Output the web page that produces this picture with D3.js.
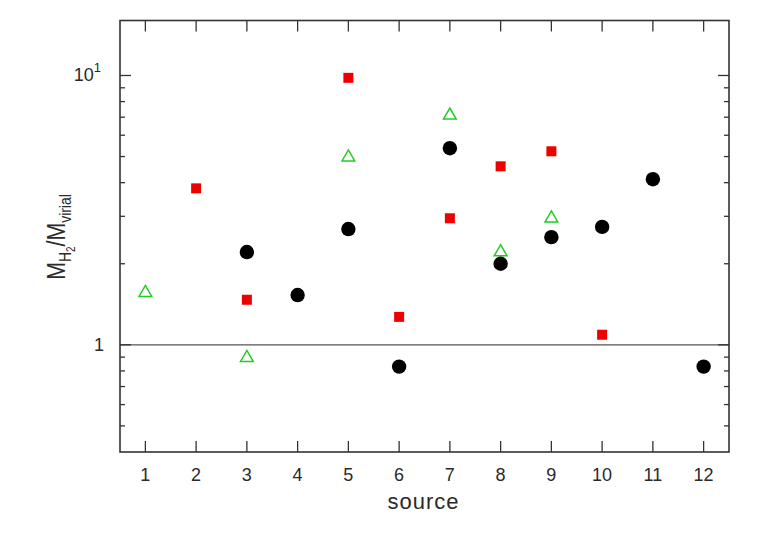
<!DOCTYPE html>
<html>
<head>
<meta charset="utf-8">
<script src="https://cdn.jsdelivr.net/npm/d3@7"></script>
<style>
  body { margin: 0; background: #fff; }
  text { font-family: "Liberation Sans", Arial, sans-serif; fill: #2a2a2a; }
</style>
</head>
<body>
<svg width="780" height="540"></svg>
<script>
// sources on the x axis
const sources = [1, 2, 3, 4, 5, 6, 7, 8, 9, 10, 11, 12];

// black filled circles
const circleSrc = [3, 4, 5, 6, 7, 8, 9, 10, 11, 12];
const circleVal = [2.21, 1.53, 2.69, 0.83, 5.37, 2.0, 2.51, 2.74, 4.12, 0.83];

// red filled squares
const squareSrc = [2, 3, 5, 6, 7, 8, 9, 10];
const squareVal = [3.81, 1.47, 9.8, 1.27, 2.95, 4.6, 5.23, 1.09];

// green open triangles
const triSrc = [1, 3, 5, 7, 8, 9];
const triVal = [1.56, 0.895, 4.97, 7.11, 2.21, 2.95];

const yMajor = [1, 10];
const yMinor = [0.5, 0.6, 0.7, 0.8, 0.9, 2, 3, 4, 5, 6, 7, 8, 9];

const svg = d3.select("svg"),
  margin = { top: 20.5, right: 51, bottom: 88, left: 120 },
  width = 780 - margin.left - margin.right,
  height = 540 - margin.top - margin.bottom,
  g = svg.append("g").attr("transform", "translate(" + margin.left + "," + margin.top + ")");

const x = d3.scaleLinear().domain([0.5, 12.5]).range([0, width]);
const y = d3.scaleLog().domain([0.4, 16]).range([height, 0]);

const frameColor = "#333";

// reference line at 1
g.append("line")
  .attr("x1", 0).attr("x2", width)
  .attr("y1", y(1)).attr("y2", y(1))
  .attr("stroke", "#555").attr("stroke-width", 1.2);

// x ticks, bottom and top, pointing inward
const xt = g.append("g").attr("stroke", frameColor).attr("stroke-width", 1.3);
sources.forEach(s => {
  xt.append("line").attr("x1", x(s)).attr("x2", x(s)).attr("y1", height).attr("y2", height - 11);
  xt.append("line").attr("x1", x(s)).attr("x2", x(s)).attr("y1", 0).attr("y2", 11);
});

// y ticks, left and right
yMajor.forEach(v => {
  xt.append("line").attr("x1", 0).attr("x2", 11).attr("y1", y(v)).attr("y2", y(v));
  xt.append("line").attr("x1", width).attr("x2", width - 11).attr("y1", y(v)).attr("y2", y(v));
});
yMinor.forEach(v => {
  xt.append("line").attr("x1", 0).attr("x2", 5).attr("y1", y(v)).attr("y2", y(v));
  xt.append("line").attr("x1", width).attr("x2", width - 5).attr("y1", y(v)).attr("y2", y(v));
});

// frame
g.append("rect")
  .attr("width", width).attr("height", height)
  .attr("fill", "none").attr("stroke", frameColor).attr("stroke-width", 1.6);

// x tick labels
g.append("g").selectAll("text")
  .data(sources).join("text")
  .attr("x", d => x(d)).attr("y", height + 29)
  .attr("text-anchor", "middle")
  .attr("font-size", 18)
  .text(d => d);

// y tick labels
const t10 = g.append("text")
  .attr("x", -19).attr("y", y(10) + 6)
  .attr("text-anchor", "end").attr("font-size", 18);
t10.append("tspan").text("10");
t10.append("tspan").attr("dy", -9).attr("font-size", 13).text("1");

g.append("text")
  .attr("x", -16).attr("y", y(1) + 6)
  .attr("text-anchor", "end").attr("font-size", 18)
  .text("1");

// axis titles
svg.append("text")
  .attr("x", margin.left + width / 2 - 1).attr("y", 509)
  .attr("text-anchor", "middle").attr("font-size", 22)
  .attr("letter-spacing", 1)
  .text("source");

const yl = svg.append("text")
  .attr("transform", "translate(65,237) rotate(-90) scale(0.82,1)")
  .attr("text-anchor", "middle").attr("font-size", 26);
yl.append("tspan").text("M");
yl.append("tspan").attr("font-size", 17).attr("dy", 6).text("H");
yl.append("tspan").attr("font-size", 12).attr("dy", 4).text("2");
yl.append("tspan").attr("dy", -10).text("/M");
yl.append("tspan").attr("font-size", 17).attr("dy", 6).text("virial");

// triangles
const tri = d3.symbol().type(d3.symbolTriangle).size(70);
g.append("g").selectAll("path")
  .data(triSrc.map((s, i) => [s, triVal[i]])).join("path")
  .attr("d", tri)
  .attr("transform", d => "translate(" + x(d[0]) + "," + y(d[1]) + ")")
  .attr("fill", "none").attr("stroke", "#22cc22").attr("stroke-width", 1.5);

// circles
g.append("g").selectAll("circle")
  .data(circleSrc.map((s, i) => [s, circleVal[i]])).join("circle")
  .attr("cx", d => x(d[0])).attr("cy", d => y(d[1]))
  .attr("r", 7.2).attr("fill", "#000");

// squares
g.append("g").selectAll("rect")
  .data(squareSrc.map((s, i) => [s, squareVal[i]])).join("rect")
  .attr("x", d => x(d[0]) - 5).attr("y", d => y(d[1]) - 5)
  .attr("width", 10).attr("height", 10)
  .attr("fill", "#ee0000");
</script>
</body>
</html>
